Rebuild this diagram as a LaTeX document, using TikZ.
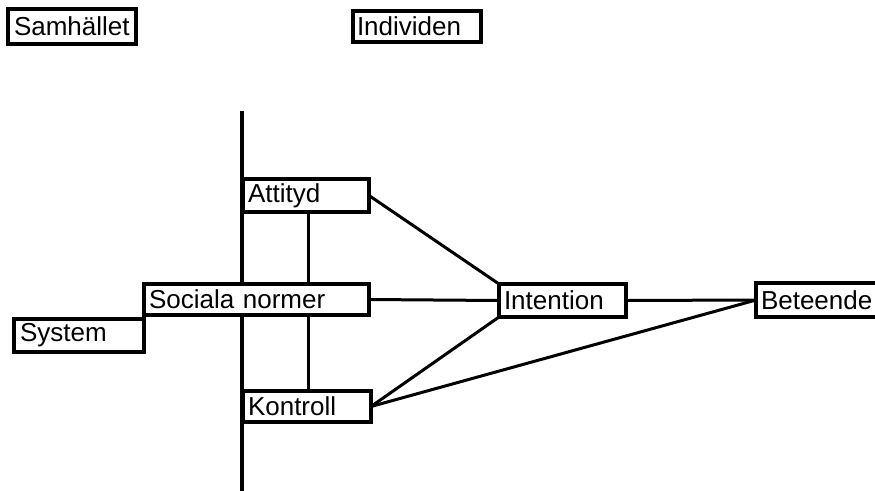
\documentclass[tikz,border=0pt]{standalone}
\usepackage{fontspec}
\setmainfont{Liberation Sans}
\begin{document}
\begin{tikzpicture}[x=1pt,y=-1pt,
  bx/.style={draw, fill=white, line width=3.4pt, anchor=north west, outer sep=0pt,
    inner xsep=5pt, inner ysep=0pt, align=left,
    font=\fontsize{26}{28}\selectfont},
  ln/.style={line width=3pt}]
\useasboundingbox (0,0) rectangle (875,490);
\clip (0,0) rectangle (875,490);
\fill[white] (0,0) rectangle (875,490);
% coordinates
\coordinate (top) at (242,111);
\coordinate (bot) at (242,495);
\coordinate (xa) at (308,0);
% main vertical line (behind the boxes)
\draw[line width=3.4pt] (top) -- (bot);
% boxes
\node[bx, text width=116pt, minimum height=35pt, inner xsep=6pt] (sam) at (8,9) {Samhället};
\node[bx, text width=120pt, minimum height=31pt, inner xsep=4pt] (ind) at (353,11) {Individen};
\node[bx, text width=116pt, minimum height=33pt] (att) at (243,179) {Attityd};
\node[bx, text width=215pt, minimum height=31pt] (soc) at (144,284) {Sociala normer};
\node[bx, text width=118pt, minimum height=33pt, inner xsep=6pt] (sys) at (14,319) {System};
\node[bx, text width=118pt, minimum height=31pt] (kon) at (243,391) {Kontroll};
\node[bx, text width=117pt, minimum height=33pt] (int) at (499,284) {Intention};
\node[bx, text width=140pt, minimum height=34pt] (bet) at (756,283) {Beteende};
% lines
\draw[ln] (att.south -| xa) -- (soc.north -| xa);
\draw[ln] (soc.south -| xa) -- (kon.north -| xa);
\draw[ln] (att.east) -- (int.north west);
\draw[ln] (soc.east) -- (int.west);
\draw[ln] (kon.east) -- (int.south west);
\draw[ln] (kon.east) -- (bet.west);
\draw[ln] (int.east) -- (bet.west);
\end{tikzpicture}
\end{document}
